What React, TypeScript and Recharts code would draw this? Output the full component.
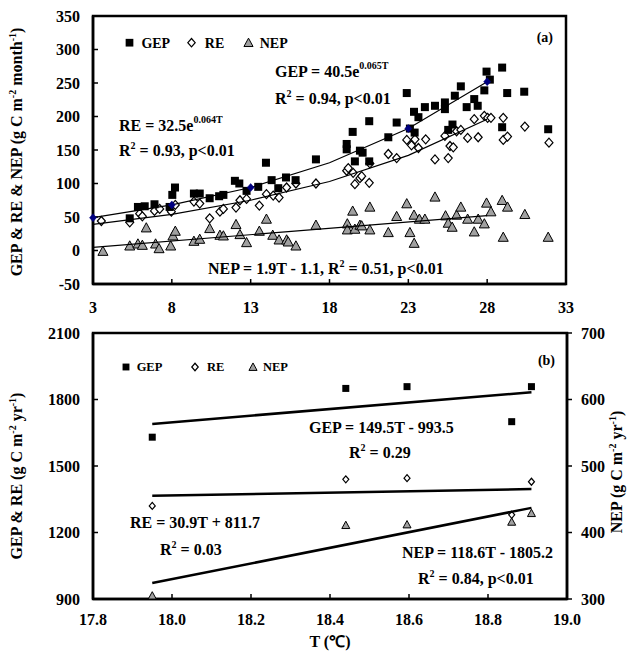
import React from 'react';
import { ScatterChart, Scatter, XAxis, YAxis, ReferenceArea } from 'recharts';

const FONT = '"Liberation Serif", "Times New Roman", serif';

// ---------- Panel (a): monthly values [T (°C), value] ----------
const gepMonthly: [number, number][] = [
  [5.33, 48], [5.85, 65], [6.28, 66], [6.9, 69], [7.86, 65], [8.03, 83], [8.2, 94], [9.4, 85], [9.77, 85],
  [10.4, 78], [11.0, 81], [11.27, 83], [12.0, 104], [12.28, 100], [12.74, 89], [13.48, 95], [13.97, 131],
  [14.33, 105], [14.75, 93], [15.24, 109], [15.85, 105], [17.14, 136], [19.09, 159], [19.09, 151], [19.47, 177],
  [19.61, 133], [19.93, 149], [20.1, 146], [20.52, 133], [20.52, 193], [21.73, 169], [22.26, 191], [22.9, 235],
  [23.1, 182], [23.4, 176], [23.36, 207], [23.64, 199], [24.05, 214], [24.69, 216], [25.32, 221], [25.32, 211],
  [25.53, 180], [25.8, 188], [25.95, 231], [26.33, 245], [26.7, 214], [27.18, 226], [27.4, 216], [27.82, 239],
  [27.96, 267], [28.17, 255], [28.95, 273], [29.27, 235], [28.95, 184], [30.35, 237], [31.87, 181],
];
const reMonthly: [number, number][] = [
  [3.53, 44], [5.33, 42], [5.96, 55], [6.13, 51], [6.9, 59], [7.23, 62], [7.97, 58], [8.22, 68], [9.4, 73],
  [9.77, 70], [10.4, 48], [11.05, 58], [11.27, 62], [12.07, 64], [12.32, 75], [12.74, 77], [13.55, 67],
  [14.0, 84], [14.43, 82], [14.8, 79], [15.28, 94], [15.87, 100], [17.14, 100], [19.09, 119], [19.19, 123],
  [19.5, 116], [19.61, 99], [19.93, 108], [20.04, 111], [20.52, 101], [20.56, 130], [21.73, 144], [22.26, 138],
  [22.9, 165], [23.2, 157], [23.42, 166], [23.64, 153], [24.1, 166], [24.69, 136], [25.32, 171], [25.53, 138],
  [25.64, 156], [25.85, 154], [26.06, 178], [26.33, 180], [26.76, 168], [27.18, 196], [27.43, 169], [27.82, 201],
  [28.03, 198], [28.24, 198], [29.02, 198], [29.02, 165], [29.29, 170], [30.39, 185], [31.92, 161],
];
const nepMonthly: [number, number][] = [
  [3.63, -1], [5.33, 7], [5.85, 10], [6.13, 8], [6.38, 34], [6.97, 10], [7.19, 3], [7.93, 7], [8.07, 22],
  [8.22, 29], [9.4, 14], [9.77, 17], [10.4, 33], [11.05, 23], [11.27, 22], [12.07, 39], [12.32, 24], [12.74, 12],
  [13.55, 29], [14.0, 47], [14.4, 23], [14.8, 16], [15.28, 16], [15.38, 13], [15.87, 7], [17.14, 38], [19.13, 40],
  [19.13, 31], [19.47, 59], [19.61, 32], [19.93, 38], [20.04, 37], [20.56, 65], [20.56, 31], [21.73, 27],
  [22.26, 51], [22.9, 70], [23.1, 27], [23.37, 11], [23.36, 53], [23.7, 47], [24.05, 47], [24.69, 80],
  [25.36, 52], [25.53, 41], [25.78, 35], [26.06, 53], [26.33, 65], [26.76, 47], [27.18, 28], [27.43, 47],
  [27.82, 40], [27.96, 71], [28.24, 58], [28.95, 75], [29.29, 65], [29.02, 20], [30.39, 54], [31.87, 20],
];
// fitted curves read at their vertices
const fitTA = [3, 8, 13, 18, 23, 28];
const gepFitA = [49, 68, 94, 131, 182, 252];
const reFitA = [39, 54, 75, 103, 142, 196];
const nepFitTA = [3, 28];
const nepFitA = [4.6, 52.1];
// blue markers on the GEP curve
const markerT = [3, 8, 13, 23, 28];
const markerV = [49, 68, 94, 182, 252];
const xTicksA = [3, 8, 13, 18, 23, 28, 33];
const yTicksA = [-50, 0, 50, 100, 150, 200, 250, 300, 350];

// ---------- Panel (b): annual values ----------
const annualT = [17.95, 18.44, 18.595, 18.86, 18.91];
const gepAnnual = [1630, 1850, 1858, 1700, 1858];
const reAnnual = [1320, 1440, 1445, 1280, 1429];
const nepAnnual = [305, 411, 412, 416, 429];
const fitTB = [17.95, 18.91];
const gepFitB = [1690, 1833];
const reFitB = [1366, 1396];
const nepFitB = [324, 437];
const xTicksB = [17.8, 18.0, 18.2, 18.4, 18.6, 18.8, 19.0];
const yTicksBLeft = [900, 1200, 1500, 1800, 2100];
const yTicksBRight = [300, 400, 500, 600, 700];

const pairs = (p: [number, number][]) => p.map(([t, v]) => ({ t, v }));
const zip = (ts: number[], vs: number[]) => ts.map((t, i) => ({ t, v: vs[i] }));

const mkSquare = (s: number) => (p: any) => (
  <rect x={p.cx - s / 2} y={p.cy - s / 2} width={s} height={s} fill="#000" />
);
const mkDiamond = (s: number, fill = '#fff', stroke = '#000', sw = 1.2) => (p: any) => (
  <path
    d={`M${p.cx},${p.cy - s / 2} L${p.cx + s / 2 - 0.5},${p.cy} L${p.cx},${p.cy + s / 2} L${p.cx - s / 2 + 0.5},${p.cy} Z`}
    fill={fill}
    stroke={stroke}
    strokeWidth={sw}
  />
);
const mkTriangle = (s: number) => (p: any) => (
  <path
    d={`M${p.cx},${p.cy - s * 0.5} L${p.cx + s / 2},${p.cy + s * 0.42} L${p.cx - s / 2},${p.cy + s * 0.42} Z`}
    fill="#a0a0a0"
    stroke="#000"
    strokeWidth={1}
  />
);
const noShape = () => <g />;

const tickStyle = { fill: '#000', fontSize: 16, fontWeight: 700, fontFamily: FONT };
const axisLine = { stroke: '#000', strokeWidth: 2.5 };
const tickLine = { stroke: '#000', strokeWidth: 1.5 };

const Txt = ({ x, y, size = 16, anchor = 'start', children }: any) => (
  <text x={x} y={y} fontSize={size} fontWeight={700} fontFamily={FONT} textAnchor={anchor} fill="#000" style={{ whiteSpace: 'pre' }}>
    {children}
  </text>
);

const Legend = ({ x, y, size }: { x: number[]; y: number; size: number }) => {
  const sq = mkSquare(size * 0.55);
  const di = mkDiamond(size * 0.6);
  const tr = mkTriangle(size * 0.65);
  return (
    <g>
      {sq({ cx: x[0], cy: y })}
      <Txt x={x[0] + size * 0.85} y={y + size * 0.35} size={size}>GEP</Txt>
      {di({ cx: x[1], cy: y })}
      <Txt x={x[1] + size * 0.95} y={y + size * 0.35} size={size}>RE</Txt>
      {tr({ cx: x[2], cy: y })}
      <Txt x={x[2] + size * 0.8} y={y + size * 0.35} size={size}>NEP</Txt>
    </g>
  );
};

const Overlay = () => (
  <svg width={641} height={657} style={{ position: 'absolute', left: 0, top: 0, pointerEvents: 'none' }}>
    {/* Panel (a) */}
    <Legend x={[129.5, 191.5, 248.5]} y={42.7} size={14} />
    <Txt x={553} y={42} size={14} anchor="end">(a)</Txt>
    <Txt x={275} y={77}>
      GEP = 40.5e<tspan dy={-8} fontSize={10}>0.065T</tspan>
    </Txt>
    <Txt x={275} y={104}>
      R<tspan dy={-7} fontSize={10}>2</tspan>
      <tspan dy={7}>{' = 0.94, p<0.01'}</tspan>
    </Txt>
    <Txt x={119} y={131}>
      RE = 32.5e<tspan dy={-8} fontSize={10}>0.064T</tspan>
    </Txt>
    <Txt x={119} y={156}>
      R<tspan dy={-7} fontSize={10}>2</tspan>
      <tspan dy={7}>{' = 0.93, p<0.01'}</tspan>
    </Txt>
    <Txt x={208} y={274}>
      NEP = 1.9T - 1.1, R<tspan dy={-7} fontSize={10}>2</tspan>
      <tspan dy={7}>{' = 0.51, p<0.01'}</tspan>
    </Txt>
    <text
      x={22}
      y={152}
      transform="rotate(-90, 22, 152)"
      fontSize={16}
      fontWeight={700}
      fontFamily={FONT}
      textAnchor="middle"
      fill="#000"
      style={{ whiteSpace: 'pre' }}
    >
      {'GEP & RE & NEP (g C m'}
      <tspan dy={-6} fontSize={10}>-2</tspan>
      <tspan dy={6}>{' month'}</tspan>
      <tspan dy={-6} fontSize={10}>-1</tspan>
      <tspan dy={6}>)</tspan>
    </text>

    {/* Panel (b) */}
    <Legend x={[126, 195, 253]} y={367} size={12.5} />
    <Txt x={555} y={365} size={14} anchor="end">(b)</Txt>
    <Txt x={309} y={433}>GEP = 149.5T - 993.5</Txt>
    <Txt x={349} y={458}>
      R<tspan dy={-7} fontSize={10}>2</tspan>
      <tspan dy={7}>{' = 0.29'}</tspan>
    </Txt>
    <Txt x={130} y={528}>RE = 30.9T + 811.7</Txt>
    <Txt x={160} y={555}>
      R<tspan dy={-7} fontSize={10}>2</tspan>
      <tspan dy={7}>{' = 0.03'}</tspan>
    </Txt>
    <Txt x={402} y={558}>NEP = 118.6T - 1805.2</Txt>
    <Txt x={418} y={584}>
      R<tspan dy={-7} fontSize={10}>2</tspan>
      <tspan dy={7}>{' = 0.84, p<0.01'}</tspan>
    </Txt>
    <text
      x={22}
      y={476}
      transform="rotate(-90, 22, 476)"
      fontSize={16}
      fontWeight={700}
      fontFamily={FONT}
      textAnchor="middle"
      fill="#000"
      style={{ whiteSpace: 'pre' }}
    >
      {'GEP & RE (g C m'}
      <tspan dy={-6} fontSize={10}>-2</tspan>
      <tspan dy={6}>{' yr'}</tspan>
      <tspan dy={-6} fontSize={10}>-1</tspan>
      <tspan dy={6}>)</tspan>
    </text>
    <text
      x={622}
      y={472}
      transform="rotate(-90, 622, 472)"
      fontSize={16}
      fontWeight={700}
      fontFamily={FONT}
      textAnchor="middle"
      fill="#000"
      style={{ whiteSpace: 'pre' }}
    >
      {'NEP (g C m'}
      <tspan dy={-6} fontSize={10}>-2</tspan>
      <tspan dy={6}>{' yr'}</tspan>
      <tspan dy={-6} fontSize={10}>-1</tspan>
      <tspan dy={6}>)</tspan>
    </text>
    <Txt x={330} y={647} anchor="middle">T (℃)</Txt>
  </svg>
);

export default function App() {
  return (
    <div style={{ position: 'absolute', left: 0, top: 0, width: 641, height: 657, background: '#fff' }}>
      <div style={{ position: 'absolute', left: 0, top: 0 }}>
        <ScatterChart width={641} height={320} margin={{ top: 16, right: 75, bottom: 6, left: 53 }}>
          <XAxis
            type="number"
            dataKey="t"
            domain={[3, 33]}
            ticks={xTicksA}
            interval={0}
            height={30}
            tick={tickStyle}
            axisLine={axisLine}
            tickLine={tickLine}
            tickSize={-5}
            tickMargin={23}
          />
          <YAxis
            type="number"
            dataKey="v"
            domain={[-50, 350]}
            ticks={yTicksA}
            interval={0}
            width={40}
            tick={tickStyle}
            axisLine={axisLine}
            tickLine={tickLine}
            tickSize={-5}
            tickMargin={18}
          />
          <ReferenceArea x1={3} x2={33} y1={-50} y2={350} fill="none" stroke="#000" strokeWidth={2.5} />
          <Scatter data={pairs(nepMonthly)} shape={mkTriangle(10)} isAnimationActive={false} />
          <Scatter data={pairs(reMonthly)} shape={mkDiamond(9)} isAnimationActive={false} />
          <Scatter data={pairs(gepMonthly)} shape={mkSquare(8)} isAnimationActive={false} />
          <Scatter
            data={zip(nepFitTA, nepFitA)}
            line={{ stroke: '#000', strokeWidth: 1.2 }}
            shape={noShape}
            isAnimationActive={false}
          />
          <Scatter
            data={zip(fitTA, reFitA)}
            line={{ stroke: '#000', strokeWidth: 1.2 }}
            shape={noShape}
            isAnimationActive={false}
          />
          <Scatter
            data={zip(fitTA, gepFitA)}
            line={{ stroke: '#000', strokeWidth: 1.2 }}
            shape={noShape}
            isAnimationActive={false}
          />
          <Scatter
            data={zip(markerT, markerV)}
            shape={mkDiamond(8, '#000080', '#000080', 0.5)}
            isAnimationActive={false}
          />
        </ScatterChart>
      </div>
      <div style={{ position: 'absolute', left: 0, top: 320 }}>
        <ScatterChart width={641} height={337} margin={{ top: 13, right: 34, bottom: 28, left: 53 }}>
          <XAxis
            type="number"
            dataKey="t"
            domain={[17.8, 19.0]}
            ticks={xTicksB}
            interval={0}
            height={30}
            tick={tickStyle}
            tickFormatter={(v: number) => v.toFixed(1)}
            axisLine={axisLine}
            tickLine={tickLine}
            tickSize={-5}
            tickMargin={20}
          />
          <YAxis
            yAxisId="left"
            type="number"
            dataKey="v"
            domain={[900, 2100]}
            ticks={yTicksBLeft}
            interval={0}
            width={40}
            tick={tickStyle}
            axisLine={axisLine}
            tickLine={tickLine}
            tickSize={-5}
            tickMargin={18}
          />
          <YAxis
            yAxisId="right"
            orientation="right"
            type="number"
            dataKey="v"
            domain={[300, 700]}
            ticks={yTicksBRight}
            interval={0}
            width={40}
            tick={tickStyle}
            axisLine={axisLine}
            tickLine={tickLine}
            tickSize={5}
            tickMargin={9}
          />
          <ReferenceArea
            yAxisId="left"
            x1={17.8}
            x2={19.0}
            y1={900}
            y2={2100}
            fill="none"
            stroke="#000"
            strokeWidth={2.5}
          />
          <Scatter yAxisId="right" data={zip(annualT, nepAnnual)} shape={mkTriangle(8)} isAnimationActive={false} />
          <Scatter yAxisId="left" data={zip(annualT, reAnnual)} shape={mkDiamond(7)} isAnimationActive={false} />
          <Scatter yAxisId="left" data={zip(annualT, gepAnnual)} shape={mkSquare(7)} isAnimationActive={false} />
          <Scatter
            yAxisId="left"
            data={zip(fitTB, gepFitB)}
            line={{ stroke: '#000', strokeWidth: 2.5 }}
            shape={noShape}
            isAnimationActive={false}
          />
          <Scatter
            yAxisId="left"
            data={zip(fitTB, reFitB)}
            line={{ stroke: '#000', strokeWidth: 2.5 }}
            shape={noShape}
            isAnimationActive={false}
          />
          <Scatter
            yAxisId="right"
            data={zip(fitTB, nepFitB)}
            line={{ stroke: '#000', strokeWidth: 2.5 }}
            shape={noShape}
            isAnimationActive={false}
          />
        </ScatterChart>
      </div>
      <Overlay />
    </div>
  );
}
